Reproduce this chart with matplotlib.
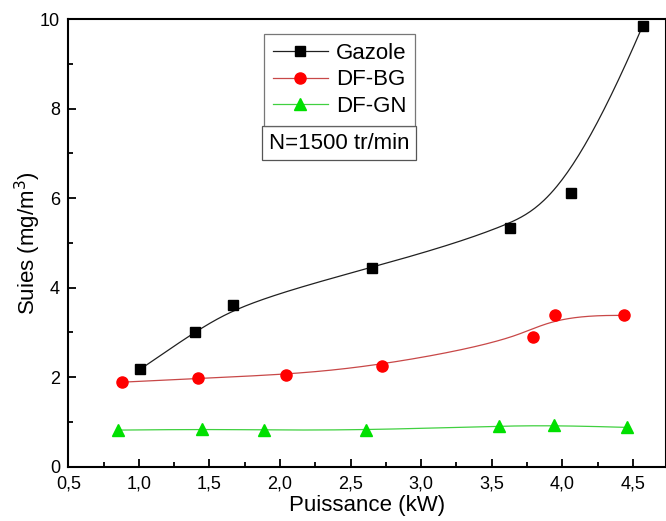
import matplotlib
matplotlib.use("Agg")
import matplotlib.pyplot as plt
import numpy as np
from matplotlib.ticker import MultipleLocator, FuncFormatter
from matplotlib.lines import Line2D

plt.rcParams['font.family'] = ['Liberation Sans', 'DejaVu Sans']

# data
gazole_x = [1.01, 1.40, 1.665, 2.65, 3.63, 4.06, 4.57]
gazole_y = [2.18, 3.02, 3.61, 4.45, 5.33, 6.12, 9.85]
dfbg_x = [0.88, 1.42, 2.04, 2.72, 3.79, 3.95, 4.44]
dfbg_y = [1.89, 1.975, 2.05, 2.26, 2.90, 3.40, 3.38]
dfgn_x = [0.85, 1.45, 1.89, 2.61, 3.55, 3.94, 4.46]
dfgn_y = [0.82, 0.84, 0.82, 0.82, 0.91, 0.93, 0.88]


def bspline(xs, ys, n=300):
    # clamped uniform cubic B-spline, points used as control points
    pts = np.column_stack([xs, ys])
    k = 3
    m = len(pts)
    inner = np.arange(1, m - k)
    knots = np.concatenate([[0] * (k + 1), inner, [m - k] * (k + 1)]).astype(float)
    t = np.linspace(0, m - k, n)
    t[-1] -= 1e-9

    def basis(i, p, tt):
        if p == 0:
            return np.where((knots[i] <= tt) & (tt < knots[i + 1]), 1.0, 0.0)
        a = 0.0
        b = 0.0
        d1 = knots[i + p] - knots[i]
        d2 = knots[i + p + 1] - knots[i + 1]
        if d1 > 0:
            a = (tt - knots[i]) / d1 * basis(i, p - 1, tt)
        if d2 > 0:
            b = (knots[i + p + 1] - tt) / d2 * basis(i + 1, p - 1, tt)
        return a + b

    out = np.zeros((n, 2))
    for i in range(m):
        out += basis(i, k, t)[:, None] * pts[i]
    return out[:, 0], out[:, 1]


fig = plt.figure(figsize=(6.66, 5.21), dpi=100)
ax = fig.add_axes([0.1026, 0.104, 0.8974, 0.8595])

series = [
    (gazole_x, gazole_y, 'black', '#202020', 's', 7, 'Gazole'),
    (dfbg_x, dfbg_y, '#ff0000', '#c84848', 'o', 8, 'DF-BG'),
    (dfgn_x, dfgn_y, '#00e000', '#40d040', '^', 8, 'DF-GN'),
]
handles = []
for xs, ys, mc, lc, mk, ms, lab in series:
    cx, cy = bspline(xs, ys)
    ax.plot(cx, cy, color=lc, lw=0.9, zorder=2)
    ax.plot(xs, ys, linestyle='none', marker=mk, color=mc, markersize=ms, zorder=3)
    handles.append(Line2D([], [], color=lc, lw=0.9, marker=mk, markerfacecolor=mc,
                          markeredgecolor=mc, markersize=ms, label=lab))

ax.set_xlim(0.5, 4.735)
ax.set_ylim(0, 10)
ax.xaxis.set_major_locator(MultipleLocator(0.5))
ax.xaxis.set_minor_locator(MultipleLocator(0.25))
ax.yaxis.set_major_locator(MultipleLocator(2))
ax.yaxis.set_minor_locator(MultipleLocator(1))
ax.xaxis.set_major_formatter(FuncFormatter(lambda v, p: ('%.1f' % v).replace('.', ',')))
ax.tick_params(which='both', direction='in', labelsize=13, width=1.3, top=False, right=False)
ax.tick_params(which='major', length=6, pad=6)
ax.tick_params(which='minor', length=3.5)
for s in ax.spines.values():
    s.set_linewidth(1.5)

ax.set_xlabel('Puissance (kW)', fontsize=16, labelpad=2)
ax.set_ylabel('Suies (mg/m$^3$)', fontsize=16, labelpad=-2)

leg = ax.legend(handles=handles, loc='upper left', bbox_to_anchor=(0.327, 0.9665),
                borderaxespad=0, fontsize=16, frameon=True, fancybox=False,
                edgecolor='#555555', handlelength=2.5, borderpad=0.4,
                labelspacing=0.25, handletextpad=0.35)
leg.get_frame().set_linewidth(0.9)

ax.text(0.336, 0.723, 'N=1500 tr/min', transform=ax.transAxes, fontsize=16,
        va='center', ha='left',
        bbox=dict(boxstyle='square,pad=0.3', facecolor='white', edgecolor='#555555', lw=0.9))

fig.savefig('out.png', dpi=100)
